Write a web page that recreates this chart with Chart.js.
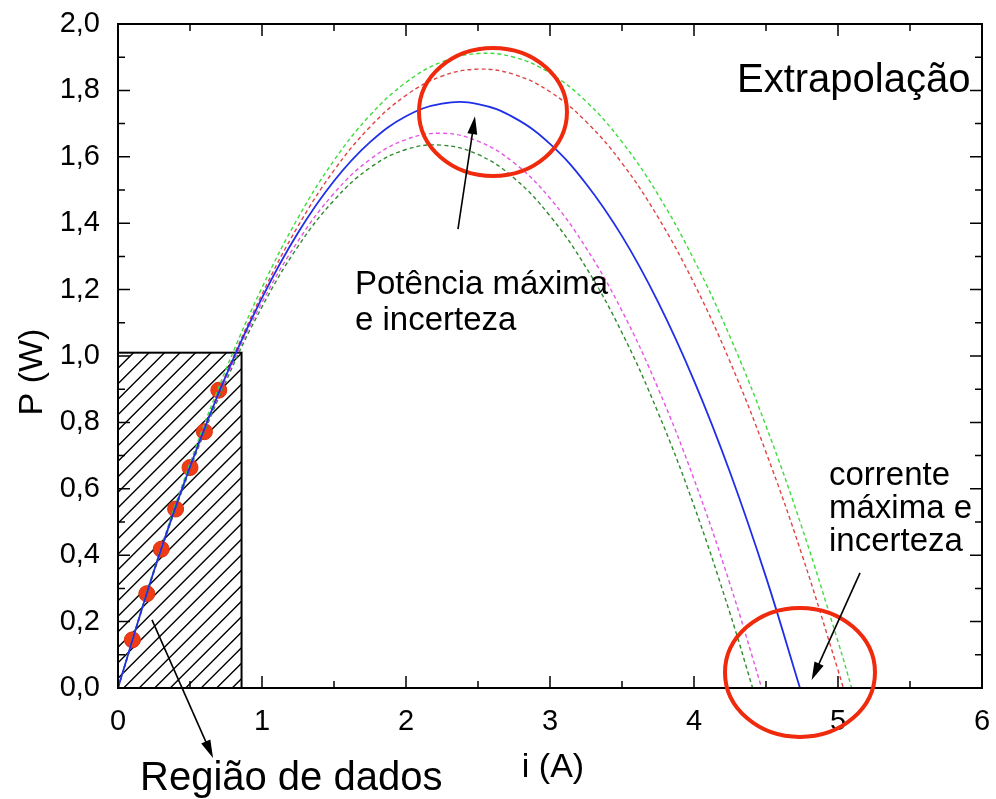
<!DOCTYPE html>
<html>
<head>
<meta charset="utf-8">
<script src="https://cdn.jsdelivr.net/npm/chart.js@4.4.1/dist/chart.umd.min.js"></script>
<style>
  html, body { margin: 0; padding: 0; background: #fff; }
  canvas { display: block; }
</style>
</head>
<body>
<canvas id="c" width="996" height="799"></canvas>
<script>
const FONT = "'Liberation Sans', Arial, Helvetica, sans-serif";

// Measured points (current in A, power in W)
const dataI = [0.1, 0.2, 0.3, 0.4, 0.5, 0.6, 0.7];
const dataP = [0.145, 0.284, 0.418, 0.539, 0.664, 0.772, 0.897];

// Current steps shared by the extrapolated curves
const iSteps = [0, 0.25, 0.5, 0.75, 1, 1.25, 1.5, 1.75, 2, 2.25, 2.5, 2.75, 3,
                3.25, 3.5, 3.75, 4, 4.25, 4.5, 4.75, 5];

// Fitted curve (solid blue) and uncertainty bands (dashed)
const pFit        = [0, 0.353, 0.666, 0.941, 1.175, 1.371, 1.527, 1.644, 1.722, 1.760, 1.759,
                     1.718, 1.639, 1.519, 1.361, 1.163, 0.926, 0.650, 0.334];
const iFitEnd     = 4.736;
const pUpperOuter = [0, 0.357, 0.677, 0.960, 1.206, 1.416, 1.589, 1.725, 1.824, 1.886, 1.911,
                     1.900, 1.852, 1.767, 1.645, 1.486, 1.290, 1.058, 0.789, 0.483, 0.140];
const iUpperOuterEnd = 5.095;
const pUpperInner = [0, 0.352, 0.667, 0.945, 1.186, 1.391, 1.559, 1.690, 1.785, 1.843, 1.864,
                     1.848, 1.796, 1.706, 1.581, 1.418, 1.219, 0.983, 0.710, 0.401, 0.054];
const iUpperInnerEnd = 5.037;
const pLowerInner = [0, 0.353, 0.664, 0.933, 1.161, 1.346, 1.490, 1.592, 1.652, 1.671, 1.647,
                     1.582, 1.475, 1.326, 1.136, 0.903, 0.629, 0.313];
const iLowerInnerEnd = 4.47;
const pLowerOuter = [0, 0.350, 0.658, 0.924, 1.148, 1.330, 1.469, 1.567, 1.622, 1.635, 1.607,
                     1.536, 1.422, 1.267, 1.070, 0.830, 0.549, 0.225];
const iLowerOuterEnd = 4.407;

// Extent of the measured-data region (hatched box)
const regionI = 0.858;
const regionP = 1.01;

// Tick labels
const xTickLabels = ['0', '1', '2', '3', '4', '5', '6'];
const yTickLabels = ['0,0', '0,2', '0,4', '0,6', '0,8', '1,0', '1,2', '1,4', '1,6', '1,8', '2,0'];

function curve(values, iEnd) {
  return values.map((p, k) => ({ x: iSteps[k], y: p })).concat([{ x: iEnd, y: 0 }]);
}

function arrow(ctx, xa, ya, xb, yb) {
  const ang = Math.atan2(yb - ya, xb - xa);
  const L = 18, W = 5;
  const c = Math.cos(ang), s = Math.sin(ang);
  ctx.beginPath();
  ctx.moveTo(xa, ya);
  ctx.lineTo(xb - L * 0.8 * c, yb - L * 0.8 * s);
  ctx.stroke();
  ctx.beginPath();
  ctx.moveTo(xb, yb);
  ctx.lineTo(xb - L * c + W * s, yb - L * s - W * c);
  ctx.lineTo(xb - L * c - W * s, yb - L * s + W * c);
  ctx.closePath();
  ctx.fill();
}

const decor = {
  id: 'decor',
  beforeDatasetsDraw(chart) {
    const { ctx, scales: { x, y } } = chart;
    const x0 = x.getPixelForValue(0), x1 = x.getPixelForValue(regionI);
    const y0 = y.getPixelForValue(0), y1 = y.getPixelForValue(regionP);
    const w = x1 - x0, h = y0 - y1;
    ctx.save();
    ctx.beginPath();
    ctx.rect(x0, y1, w, h);
    ctx.clip();
    ctx.strokeStyle = '#000';
    ctx.lineWidth = 1.4;
    ctx.beginPath();
    for (let s = -h; s < w + h; s += 15.5) {
      ctx.moveTo(x0 + s, y0);
      ctx.lineTo(x0 + s + h, y1);
    }
    ctx.stroke();
    ctx.restore();
    ctx.save();
    ctx.strokeStyle = '#000';
    ctx.lineWidth = 2;
    ctx.strokeRect(x0, y1, w, h);
    ctx.restore();
  },
  afterDraw(chart) {
    const { ctx, chartArea: a, scales: { x, y } } = chart;
    ctx.save();
    // frame
    ctx.strokeStyle = '#000';
    ctx.lineWidth = 2;
    ctx.strokeRect(a.left, a.top, a.right - a.left, a.bottom - a.top);
    // inward ticks on all four sides
    ctx.lineWidth = 1.5;
    ctx.beginPath();
    for (let k = 0; k <= 12; k++) {
      const v = k * 0.5;
      const px = x.getPixelForValue(v);
      const len = k % 2 === 0 ? 12 : 7;
      ctx.moveTo(px, a.bottom); ctx.lineTo(px, a.bottom - len);
      ctx.moveTo(px, a.top); ctx.lineTo(px, a.top + len);
    }
    for (let k = 0; k <= 20; k++) {
      const v = k * 0.1;
      const py = y.getPixelForValue(v);
      const len = k % 2 === 0 ? 12 : 7;
      ctx.moveTo(a.left, py); ctx.lineTo(a.left + len, py);
      ctx.moveTo(a.right, py); ctx.lineTo(a.right - len, py);
    }
    ctx.stroke();

    // highlight ellipses
    ctx.strokeStyle = '#f02a0c';
    ctx.lineWidth = 4;
    ctx.beginPath();
    ctx.ellipse(x.getPixelForValue(2.604), y.getPixelForValue(1.735), 74, 64, 0, 0, Math.PI * 2);
    ctx.stroke();
    ctx.beginPath();
    ctx.ellipse(x.getPixelForValue(4.736), y.getPixelForValue(0.047), 75, 64.5, 0, 0, Math.PI * 2);
    ctx.stroke();

    // arrows
    ctx.strokeStyle = '#000';
    ctx.fillStyle = '#000';
    ctx.lineWidth = 1.6;
    arrow(ctx, x.getPixelForValue(2.361), y.getPixelForValue(1.382),
               x.getPixelForValue(2.479), y.getPixelForValue(1.722));
    arrow(ctx, x.getPixelForValue(5.153), y.getPixelForValue(0.347),
               x.getPixelForValue(4.817), y.getPixelForValue(0.024));
    arrow(ctx, x.getPixelForValue(0.236), y.getPixelForValue(0.205),
               x.getPixelForValue(0.660), y.getPixelForValue(-0.211));

    // annotations
    ctx.fillStyle = '#000';
    ctx.textAlign = 'left';
    ctx.textBaseline = 'alphabetic';
    ctx.font = '40px ' + FONT;
    ctx.fillText('Extrapolação', 737, 92);
    ctx.font = '33px ' + FONT;
    ctx.fillText('Potência máxima', 355, 294);
    ctx.fillText('e incerteza', 355, 330);
    ctx.fillText('corrente', 829, 485);
    ctx.fillText('máxima e', 829, 518);
    ctx.fillText('incerteza', 829, 551);
    ctx.font = '40px ' + FONT;
    ctx.fillText('Região de dados', 140, 790);

    // axis titles
    ctx.font = '34px ' + FONT;
    ctx.textAlign = 'center';
    ctx.fillText('i (A)', 553, 777);
    ctx.translate(33, 372);
    ctx.rotate(-Math.PI / 2);
    ctx.textBaseline = 'middle';
    ctx.fillText('P (W)', 0, 0);
    ctx.restore();
  }
};

const lineBase = { showLine: true, pointRadius: 0, pointHoverRadius: 0, tension: 0.4, fill: false };

new Chart(document.getElementById('c'), {
  type: 'scatter',
  data: {
    datasets: [
      Object.assign({ label: 'Ajuste', data: curve(pFit, iFitEnd),
        borderColor: '#1f2fe8', borderWidth: 1.8, order: 0 }, lineBase),
      Object.assign({ label: 'Limite superior externo', data: curve(pUpperOuter, iUpperOuterEnd),
        borderColor: '#3cdc3c', borderWidth: 1.4, borderDash: [4, 3], order: 1 }, lineBase),
      Object.assign({ label: 'Limite superior interno', data: curve(pUpperInner, iUpperInnerEnd),
        borderColor: '#e04444', borderWidth: 1.4, borderDash: [4, 3], order: 2 }, lineBase),
      Object.assign({ label: 'Limite inferior interno', data: curve(pLowerInner, iLowerInnerEnd),
        borderColor: '#e455e4', borderWidth: 1.4, borderDash: [4, 3], order: 3 }, lineBase),
      Object.assign({ label: 'Limite inferior externo', data: curve(pLowerOuter, iLowerOuterEnd),
        borderColor: '#2e8b2e', borderWidth: 1.4, borderDash: [4, 3], order: 4 }, lineBase),
      { label: 'Dados', data: dataI.map((v, k) => ({ x: v, y: dataP[k] })),
        showLine: false, pointRadius: 8, pointHoverRadius: 8,
        backgroundColor: '#f03c14', borderColor: '#d8300f', borderWidth: 1, order: 10 }
    ]
  },
  options: {
    responsive: false,
    animation: false,
    devicePixelRatio: 1,
    layout: { padding: { top: 24, right: 14, left: 0, bottom: 0 } },
    plugins: { legend: { display: false }, tooltip: { enabled: false } },
    scales: {
      x: {
        type: 'linear', min: 0, max: 6,
        afterFit(s) { s.height = 111; s.paddingLeft = 0; s.paddingRight = 0; },
        grid: { display: false }, border: { display: false },
        ticks: { stepSize: 1, color: '#000', padding: 9,
          font: { family: FONT, size: 29 },
          callback: (v) => xTickLabels[Math.round(v)] }
      },
      y: {
        type: 'linear', min: 0, max: 2,
        afterFit(s) { s.width = 118; s.paddingTop = 0; s.paddingBottom = 0; },
        grid: { display: false }, border: { display: false },
        ticks: { stepSize: 0.2, color: '#000', padding: 10,
          font: { family: FONT, size: 29 },
          callback: (v) => yTickLabels[Math.round(v / 0.2)] }
      }
    }
  },
  plugins: [decor]
});
</script>
</body>
</html>
